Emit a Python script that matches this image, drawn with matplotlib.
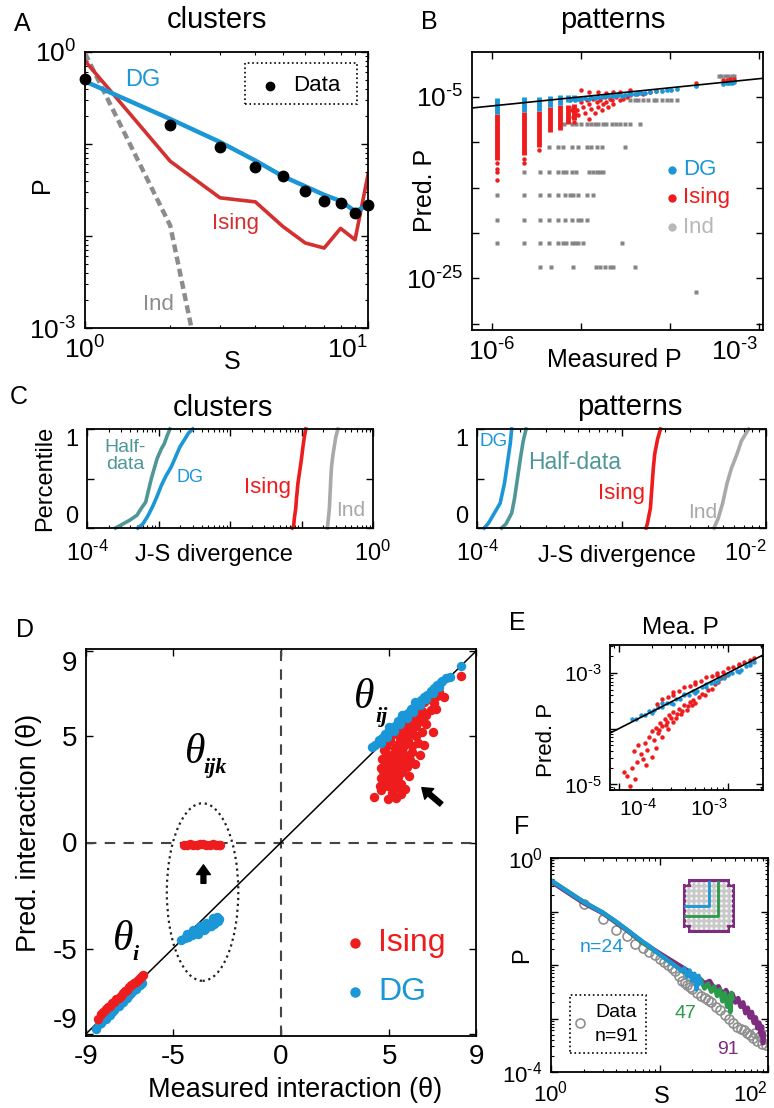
import numpy as np
import matplotlib
matplotlib.use("Agg")
import matplotlib.pyplot as plt
from matplotlib.patches import Ellipse, Rectangle, Polygon
from matplotlib.ticker import NullFormatter, NullLocator
from matplotlib.mathtext import MathTextParser
from matplotlib.font_manager import FontProperties

plt.rcParams['font.family'] = ['Liberation Sans', 'DejaVu Sans']
plt.rcParams['mathtext.fontset'] = 'custom'
plt.rcParams['mathtext.rm'] = 'Liberation Sans'
plt.rcParams['mathtext.it'] = 'Liberation Sans:italic'
plt.rcParams['mathtext.default'] = 'regular'

# ---------------- DATA ----------------
# Panel A (cluster size distribution)
a_S = [1, 2, 3, 4, 5, 6, 7, 8, 9, 10]
a_data = [0.51, 0.162, 0.093, 0.056, 0.0445, 0.031, 0.0238, 0.023, 0.0178, 0.0215]
a_dg = [0.48, 0.187, 0.105, 0.066, 0.0446, 0.0347, 0.028, 0.024, 0.0186, 0.0214]
a_ising = [0.80, 0.065, 0.026, 0.0235, 0.0127, 0.0084, 0.0074, 0.0121, 0.0091, 0.0464]
a_ind = [0.97, 0.013, 3.2e-5, 2e-8]

# Panel B (patterns, log10 values)
b_col_logx = [-5.94, -5.64, -5.47, -5.34, -5.23, -5.14, -5.07]
b_dg_top = [-5.15, -5.0, -5.0, -4.85, -4.8, -4.8, -4.8]
b_dg_bot = [-6.85, -6.65, -6.5, -6.1, -5.9, -5.6, -5.4]
b_is_top = [-6.85, -6.65, -6.5, -6.1, -5.9, -5.9, -5.8]
b_is_bot = [-12.0, -11.4, -10.5, -8.85, -8.65, -7.95, -7.6]
b_is_logx = [-5.94, -5.94, -5.94, -5.94, -5.64, -5.64, -5.47,
             -4.99, -4.90, -4.80, -4.71, -4.63, -4.56, -4.45, -5.04, -5.03, -4.99, -4.97,
             -4.95, -4.93, -4.91, -4.90, -4.88, -4.86, -4.84, -4.82, -4.80, -4.78, -4.76,
             -4.75, -4.73, -4.71, -4.69, -4.67, -4.65, -4.63, -4.60, -4.56, -4.52, -4.48,
             -4.45, -4.37, -4.30, -4.22, -4.15, -5.10, -5.09, -5.08, -5.07, -5.06,
             -3.70, -3.40, -3.36, -3.32, -3.28]
b_is_logy = [-12.3, -12.9, -13.3, -14.2, -11.8, -12.3, -10.9,
             -4.27, -4.45, -4.45, -4.56, -4.45, -4.45, -4.27, -6.47, -7.02, -5.55, -6.10,
             -6.83, -5.37, -7.39, -5.73, -6.28, -5.18, -6.83, -5.55, -6.10, -5.37, -6.47,
             -5.73, -5.0, -5.55, -6.10, -5.18, -5.37, -5.73, -5.0, -5.37, -5.18, -5.0,
             -4.82, -4.71, -4.63, -4.45, -4.34, -6.47, -7.2, -6.1, -7.75, -6.83,
             -3.46, -3.17, -3.09, -3.02, -2.98]
b_dg_logx = [-5.12, -5.06, -5.03, -4.99, -4.95, -4.91, -4.88, -4.84, -4.80, -4.76, -4.73, -4.69,
             -4.65, -4.61, -4.58, -4.54, -4.50, -4.46, -4.43, -4.39, -4.35, -4.32, -4.28, -4.22,
             -4.15, -4.09, -4.03, -3.98, -3.92, -3.70, -3.40, -3.36, -3.33, -3.30, -3.28]
b_dg_logy = [-5.35, -5.3, -5.2, -5.25, -5.15, -5.2, -5.05, -5.1, -5.0, -5.05, -4.95, -4.9,
             -4.95, -4.85, -4.8, -4.85, -4.75, -4.7, -4.72, -4.65, -4.6, -4.55, -4.55, -4.45,
             -4.4, -4.3, -4.25, -4.2, -4.15, -3.85, -3.55, -3.5, -3.45, -3.42, -3.4]
b_ind_rows_logy = [-5.37, -7.94, -10.5, -13.33, -15.83, -18.58, -21.15, -23.72, -26.47, -2.65]
b_ind_rows_logx = [
    [-4.45, -4.39, -4.35, -4.30, -4.24, -4.18, -4.15, -4.09, -4.03, -3.98, -3.92],
    [-5.19, -5.10, -5.05, -4.99, -4.93, -4.88, -4.84, -4.80, -4.75, -4.71, -4.65, -4.60,
     -4.56, -4.50, -4.45, -4.33],
    [-5.35, -5.25, -5.20, -5.10, -5.03, -4.93, -4.88, -4.82, -4.76, -4.50],
    [-5.64, -5.46, -5.35, -5.25, -5.20, -5.16, -5.10, -5.05, -4.90, -4.86, -4.82, -4.78, -4.75],
    [-5.94, -5.64, -5.46, -5.35, -5.25, -5.18, -5.12, -5.08, -5.03, -4.93, -4.86],
    [-5.94, -5.64, -5.46, -5.35, -5.25, -5.18, -5.10, -5.03, -4.99, -4.93],
    [-5.94, -5.64, -5.46, -5.35, -5.25, -5.20, -5.16, -5.10, -5.06, -5.03, -4.97, -4.54],
    [-5.46, -5.33, -5.09, -4.83, -4.78, -4.73, -4.67, -4.63, -4.39],
    [-3.70],
    [-3.45, -3.42, -3.38, -3.34, -3.30, -3.28],
]

# Panel C (cumulative distributions of J-S divergence, log10 x)
c1_half_x = [-3.60, -3.50, -3.40, -3.30, -3.24, -3.18, -3.14, -3.10, -3.06, -3.02, -2.96, -2.92, -2.88, -2.84]
c1_half_y = [0.0, 0.04, 0.08, 0.13, 0.2, 0.26, 0.38, 0.5, 0.6, 0.7, 0.8, 0.85, 0.93, 1.0]
c1_dg_x = [-3.29, -3.22, -3.15, -3.08, -3.02, -2.96, -2.90, -2.82, -2.76, -2.70, -2.63, -2.58, -2.52]
c1_dg_y = [0.0, 0.04, 0.12, 0.22, 0.32, 0.43, 0.52, 0.62, 0.72, 0.82, 0.9, 0.96, 1.0]
c1_is_x = [-1.13, -1.11, -1.10, -1.08, -1.07, -1.05, -1.03, -1.0, -0.98, -0.96, -0.94]
c1_is_y = [0.0, 0.02, 0.1, 0.2, 0.3, 0.45, 0.55, 0.7, 0.82, 0.92, 1.0]
c1_ind_x = [-0.64, -0.63, -0.61, -0.60, -0.59, -0.58, -0.56, -0.54, -0.52, -0.49]
c1_ind_y = [0.0, 0.05, 0.2, 0.35, 0.5, 0.62, 0.74, 0.83, 0.92, 1.0]
c2_dg_x = [-3.95, -3.92, -3.88, -3.84, -3.81, -3.79, -3.77, -3.76]
c2_dg_y = [0.0, 0.05, 0.15, 0.25, 0.45, 0.65, 0.85, 1.0]
c2_half_x = [-3.83, -3.80, -3.76, -3.74, -3.72, -3.70, -3.68, -3.66]
c2_half_y = [0.0, 0.04, 0.15, 0.3, 0.5, 0.7, 0.88, 1.0]
c2_is_x = [-2.83, -2.82, -2.80, -2.79, -2.78, -2.77, -2.75, -2.73]
c2_is_y = [0.0, 0.05, 0.2, 0.4, 0.6, 0.75, 0.9, 1.0]
c2_ind_x = [-2.36, -2.33, -2.30, -2.27, -2.24, -2.20, -2.17, -2.12]
c2_ind_y = [0.0, 0.1, 0.25, 0.45, 0.6, 0.75, 0.88, 1.0]

# Panel D (interactions)
d_i_is_x = [-8.45, -8.3, -8.2, -8.1, -8.0, -7.9, -7.8, -7.7, -7.6, -7.5, -7.4, -7.3, -7.2,
            -7.1, -7.0, -6.9, -6.8, -6.7, -6.6, -6.5, -6.4, -6.35]
d_i_is_y = [-8.3, -8.05, -7.98, -7.85, -7.75, -7.68, -7.55, -7.5, -7.38, -7.3, -7.2, -7.08,
            -7.0, -6.92, -6.8, -6.72, -6.6, -6.55, -6.45, -6.35, -6.3, -6.25]
d_i_dg_x = [-8.55, -8.4, -8.3, -8.2, -8.1, -8.0, -7.9, -7.8, -7.7, -7.6, -7.5, -7.4, -7.3,
            -7.2, -7.1, -7.0, -6.9, -6.8, -6.7, -6.6, -6.5, -6.4, -7.75, -7.45, -7.15, -6.85, -8.15]
d_i_dg_y = [-8.75, -8.55, -8.5, -8.35, -8.3, -8.15, -8.1, -7.95, -7.9, -7.75, -7.7, -7.55,
            -7.5, -7.35, -7.3, -7.15, -7.1, -6.95, -6.9, -6.75, -6.7, -6.6, -7.75, -7.5, -7.2, -6.9, -8.1]
d_ijk_is_x = [-4.5, -4.35, -4.2, -4.05, -3.9, -3.75, -3.6, -3.45, -3.3, -3.15, -3.0, -2.85, -2.8]
d_ijk_is_y = [-0.1, -0.12, -0.08, -0.1, -0.12, -0.08, -0.06, -0.1, -0.12, -0.08, -0.1, -0.1, -0.12]
d_ijk_dg_x = [-4.6, -4.45, -4.3, -4.2, -4.1, -4.0, -3.9, -3.8, -3.7, -3.6, -3.5, -3.4, -3.3,
              -3.2, -3.1, -3.0, -2.9, -2.85, -4.35, -4.05, -3.75, -3.45, -3.15, -3.85, -3.55, -3.25, -2.95]
d_ijk_dg_y = [-4.6, -4.5, -4.45, -4.35, -4.35, -4.25, -4.25, -4.15, -4.12, -4.05, -4.05, -3.95,
              -3.92, -3.85, -3.85, -3.75, -3.7, -3.6, -4.28, -4.1, -3.94, -3.78, -3.57, -4.29, -4.1, -3.94, -3.5]
d_ij_dg_x = [4.2, 4.35, 4.5, 4.65, 4.8, 4.95, 5.1, 5.25, 5.4, 5.55, 5.7, 5.85, 6.0, 6.15, 6.3,
             6.45, 6.6, 6.75, 6.9, 7.05, 7.2, 7.4, 7.6, 8.3, 4.6, 4.9, 5.2, 5.5, 5.8, 6.1, 6.4,
             6.7, 7.0, 7.3, 5.0, 5.6, 6.2, 7.45, 7.8]
d_ij_dg_y = [4.48, 4.6, 4.8, 4.92, 5.1, 5.2, 5.38, 5.5, 5.7, 5.8, 5.98, 6.1, 6.28, 6.38, 6.55,
             6.68, 6.85, 6.95, 7.12, 7.25, 7.4, 7.55, 7.75, 8.28, 4.68, 4.96, 5.26, 5.56, 5.86,
             6.15, 6.45, 6.74, 7.02, 7.32, 5.45, 6.0, 6.6, 7.6, 7.8]
d_ij_is_x = [4.3, 4.95, 5.3, 5.1, 4.6, 4.55, 4.75, 4.95, 5.15, 5.35, 5.55, 4.6, 4.8, 5.0, 5.2,
             5.4, 5.6, 5.9, 4.6, 4.8, 5.0, 5.2, 5.4, 5.6, 5.8, 6.2, 4.65, 4.85, 5.05, 5.25, 5.45,
             5.65, 5.85, 6.05, 6.4, 4.85, 5.05, 5.25, 5.45, 5.65, 5.85, 6.05, 6.3, 6.6, 5.05,
             5.25, 5.45, 5.65, 5.85, 6.05, 6.25, 6.5, 7.0, 5.45, 5.65, 5.85, 6.05, 6.25, 6.45,
             6.7, 5.9, 6.1, 6.3, 6.5, 6.7, 6.9, 7.15, 6.6, 6.85, 7.05, 7.3, 7.5, 7.2, 8.3,
             4.7, 4.9, 5.1, 5.3, 5.5, 5.7, 4.75, 4.95, 5.15, 5.35, 5.55, 5.75, 5.95, 5.15, 5.55]
d_ij_is_y = [2.15, 2.05, 2.1, 2.35, 2.45, 2.65, 2.8, 2.65, 2.8, 2.6, 2.75, 3.05, 3.2, 3.0, 3.25,
             3.1, 3.3, 3.15, 3.5, 3.7, 3.45, 3.65, 3.5, 3.75, 3.55, 3.7, 3.95, 4.2, 4.0, 4.25,
             4.0, 4.2, 4.05, 4.25, 4.1, 4.5, 4.75, 4.45, 4.7, 4.5, 4.75, 4.55, 4.7, 4.6, 4.95,
             5.2, 5.0, 5.25, 5.0, 5.2, 5.0, 5.2, 5.2, 5.45, 5.7, 5.5, 5.75, 5.5, 5.7, 5.55,
             6.05, 6.25, 6.0, 6.2, 6.0, 6.25, 6.3, 6.6, 6.75, 6.55, 7.1, 6.85, 6.9, 7.85,
             3.35, 2.95, 3.55, 2.9, 3.9, 2.5, 4.35, 4.1, 3.85, 4.5, 3.4, 4.9, 3.9, 2.5, 2.3]

# Panel E (log10 values)
e_dg_logx = [-3.88, -3.84, -3.8, -3.76, -3.72, -3.68, -3.64, -3.6, -3.56, -3.52, -3.48, -3.44,
             -3.4, -3.36, -3.32, -3.28, -3.24, -3.2, -3.16, -3.12, -3.08, -3.04, -3.0, -2.96,
             -2.92, -2.88, -2.84, -2.8, -2.76, -3.7, -3.5, -3.3, -3.1, -2.9, -3.6, -3.4, -3.2, -3.0, -2.8]
e_dg_logy = [-3.82, -3.82, -3.75, -3.76, -3.68, -3.67, -3.61, -3.61, -3.54, -3.54, -3.47, -3.46,
             -3.4, -3.39, -3.33, -3.32, -3.26, -3.25, -3.18, -3.16, -3.11, -3.09, -3.03, -3.01,
             -2.96, -2.94, -2.88, -2.86, -2.81, -3.72, -3.55, -3.36, -3.17, -2.98, -3.54, -3.37,
             -3.2, -3.02, -2.83]
e_is_up_logx = [-3.65, -3.6, -3.55, -3.5, -3.45, -3.4, -3.35, -3.3, -3.25, -3.2, -3.15, -3.1,
                -3.05, -3.0, -2.95, -2.9, -2.85, -2.8, -2.76, -3.5, -3.3, -3.1, -2.9]
e_is_up_logy = [-3.55, -3.46, -3.43, -3.35, -3.33, -3.26, -3.23, -3.17, -3.15, -3.08, -3.06,
                -3.0, -2.98, -2.92, -2.9, -2.84, -2.81, -2.77, -2.74, -3.4, -3.2, -3.03, -2.86]
e_is_lo_logx = [-3.9, -3.92, -3.88, -3.85, -3.83, -3.8, -3.82, -3.78, -3.76, -3.74, -3.72, -3.7,
                -3.68, -3.66, -3.64, -3.62, -3.6, -3.58, -3.56, -3.54, -3.52, -3.5, -3.47, -3.45,
                -3.42, -3.4, -3.37, -3.35, -3.32, -3.3, -3.27, -3.24, -3.21, -3.18, -3.15, -3.12,
                -3.09, -3.06, -3.03, -3.0, -3.66, -3.7, -3.6, -3.55, -3.5, -3.75, -3.86, -3.95,
                -3.63, -3.57, -3.48, -3.43, -3.38, -3.33]
e_is_lo_logy = [-5.02, -4.85, -4.7, -4.9, -4.6, -4.45, -4.3, -4.55, -4.25, -4.38, -4.15, -4.05,
                -4.2, -3.98, -4.08, -3.9, -3.96, -3.82, -3.88, -3.76, -3.8, -3.7, -3.74, -3.64,
                -3.68, -3.58, -3.6, -3.52, -3.48, -3.54, -3.44, -3.38, -3.4, -3.3, -3.28, -3.2,
                -3.17, -3.1, -3.06, -3.02, -4.35, -4.5, -4.15, -4.0, -3.88, -4.65, -4.4, -4.78,
                -4.02, -3.93, -3.8, -3.73, -3.66, -3.58]

# Panel F (cluster size distributions for n = 24, 47, 91; log10 P)
f24_S = [1, 2, 3, 4, 5, 6, 7, 8, 10, 12, 14, 16, 17, 18, 19, 20, 21, 22, 23, 24]
f24_logP = [-0.42, -0.82, -1.02, -1.19, -1.34, -1.46, -1.56, -1.64, -1.80, -1.92, -2.02, -2.11,
            -2.06, -2.22, -2.10, -2.30, -2.16, -2.46, -2.20, -2.34]
f47_S = [1, 2, 3, 5, 7, 10, 13, 16, 18, 20, 22, 24, 26, 28, 30, 32, 34, 36, 38, 40, 42, 44, 45, 46, 47]
f47_logP = [-0.42, -0.82, -1.02, -1.34, -1.58, -1.80, -1.97, -2.10, -2.16, -2.24, -2.34, -2.27,
            -2.44, -2.35, -2.50, -2.40, -2.58, -2.46, -2.68, -2.52, -2.78, -2.58, -2.88, -2.52, -2.62]
f91_S = [1, 2, 3, 5, 7, 10, 12, 15, 18, 20, 23, 26, 29, 32, 35, 38, 41, 44, 47, 50, 53, 56, 59,
         62, 65, 68, 71, 74, 77, 80, 83, 86, 88, 90, 91]
f91_logP = [-0.44, -0.84, -1.03, -1.35, -1.58, -1.78, -1.88, -2.0, -2.1, -2.18, -2.24, -2.34,
            -2.3, -2.44, -2.4, -2.55, -2.47, -2.6, -2.54, -2.7, -2.62, -2.78, -2.7, -2.9, -2.8,
            -2.98, -2.88, -3.08, -2.98, -3.18, -3.08, -3.3, -3.15, -3.46, -3.3]
fdata_S = [2, 3, 4, 5, 6, 7, 8, 9, 10, 11, 12, 13, 14, 15, 16, 17, 18, 19, 20, 22, 24, 26, 28,
           30, 33, 36, 40, 44, 48, 52, 56, 60, 64, 68, 72, 76, 80, 84, 88, 92, 96, 98]
fdata_logP = [-0.86, -1.14, -1.35, -1.46, -1.6, -1.68, -1.76, -1.82, -1.88, -1.94, -2.0, -2.06,
              -2.12, -2.2, -2.3, -2.34, -2.38, -2.42, -2.45, -2.52, -2.58, -2.62, -2.66, -2.7,
              -2.78, -2.85, -2.94, -3.0, -3.08, -3.15, -3.2, -3.22, -3.28, -3.3, -3.36, -3.28,
              -3.42, -3.33, -3.48, -3.38, -3.5, -3.3]
inset_grid = 10
inset_sizes = [5, 7]

# ---------------- STYLE ----------------
BLUE = '#1b96d6'
RED = '#ee1c1c'
DRED = '#d3302f'
GRAY = '#8c8c8c'
LGRAY = '#a9a9a9'
TEAL = '#4f9797'
GREEN = '#2b9a4a'
PURPLE = '#7d2c80'

W, H = 774, 1108
fig = plt.figure(figsize=(W / 100, H / 100), dpi=100)
fig.patch.set_facecolor('white')

# short hyphen for exponent minus if mathtext accepts it
HY = '\u2010'
try:
    MathTextParser('agg').parse('$10^{' + HY + '3}$', 100, FontProperties(size=12))
except Exception:
    HY = '-'


def add_ax(x0, y0, x1, y1):
    return fig.add_axes([x0 / W, 1 - y1 / H, (x1 - x0) / W, (y1 - y0) / H])


def ftext(x, y, s, **kw):
    kw.setdefault('ha', 'center')
    kw.setdefault('va', 'center')
    fig.text(x / W, 1 - y / H, s, **kw)


def L(e):
    if e < 0:
        return '$10^{' + HY + str(-e) + '}$'
    return '$10^{' + str(e) + '}$'


def style(ax, fs, pad=4):
    for s in ax.spines.values():
        s.set_linewidth(1.3)
    ax.tick_params(which='both', direction='in', top=True, right=True, labelsize=fs, pad=pad)
    ax.tick_params(which='major', length=5, width=1)
    ax.tick_params(which='minor', length=2.5, width=0.8)


def right_last_xlabel(ax):
    ax.get_xticklabels()[-1].set_horizontalalignment('right')


def P10(v):
    return 10 ** np.asarray(v, dtype=float)


# ---------------- PANEL A ----------------
axA = add_ax(85, 52, 368, 328)
axA.set_xscale('log'); axA.set_yscale('log')
axA.plot(a_S[:len(a_ind)], a_ind, color=GRAY, lw=3.2, dashes=(1.8, 1.0))
axA.plot(a_S, a_ising, color=DRED, lw=2.6)
axA.plot(a_S, a_dg, color=BLUE, lw=3.2)
axA.plot(a_S, a_data, 'o', color='k', ms=7.5, clip_on=False, zorder=5)
axA.set_xlim(1, 10); axA.set_ylim(1e-3, 1)
axA.set_xticks([1, 10]); axA.set_xticklabels([L(0), L(1)])
axA.set_yticks([1e-3, 1e-2, 1e-1, 1]); axA.set_yticklabels([L(-3), '', '', L(0)])
axA.xaxis.set_minor_formatter(NullFormatter()); axA.yaxis.set_minor_formatter(NullFormatter())
style(axA, 19, pad=6)
right_last_xlabel(axA)
axA.add_patch(Rectangle((0.565, 0.812), 0.396, 0.148, transform=axA.transAxes, fill=False,
                        ls=':', lw=1.2, ec='k'))
axA.plot([0.654], [0.877], 'o', color='k', ms=6, transform=axA.transAxes)
axA.text(0.735, 0.877, 'Data', transform=axA.transAxes, va='center', fontsize=16)
ftext(143, 80, 'DG', color=BLUE, fontsize=17)
ftext(235, 223, 'Ising', color=DRED, fontsize=16)
ftext(158, 305, 'Ind', color=GRAY, fontsize=16)
ftext(217, 20, 'clusters', fontsize=21)
ftext(22, 24, 'A', fontsize=18)
ftext(42, 185, 'P', fontsize=18, rotation=90)
ftext(232, 362, 'S', fontsize=18)

# ---------------- PANEL B ----------------
axB = add_ax(472, 52, 763, 330)
axB.set_xscale('log'); axB.set_yscale('log')
for lx, row in zip(b_ind_rows_logy, b_ind_rows_logx):
    axB.plot(P10(row), P10([lx] * len(row)), 's', color='#858585', ms=2.6, mec='none')
axB.vlines(P10(b_col_logx), P10(b_is_bot), P10(b_is_top), color=RED, lw=3.5)
axB.plot(P10(b_is_logx), P10(b_is_logy), 'o', color=RED, ms=3.2, mec='none')
axB.vlines(P10(b_col_logx), P10(b_dg_bot), P10(b_dg_top), color=BLUE, lw=3.5)
axB.plot(P10(b_dg_logx), P10(b_dg_logy), 'o', color=BLUE, ms=3.4, mec='none')
axB.axline((1e-6, 1e-6), (1e-3, 1e-3), color='k', lw=1.2)
axB.set_xlim(10 ** -6.22, 10 ** -2.95); axB.set_ylim(10 ** -30.7, 10 ** -0.05)
axB.set_xticks([1e-6, 1e-5, 1e-4, 1e-3]); axB.set_xticklabels([L(-6), '', '', L(-3)])
axB.set_yticks([1e-30, 1e-25, 1e-20, 1e-15, 1e-10, 1e-5])
axB.set_yticklabels(['', L(-25), '', '', '', L(-5)])
axB.yaxis.set_minor_locator(NullLocator())
axB.xaxis.set_minor_formatter(NullFormatter())
style(axB, 19, pad=6)
right_last_xlabel(axB)
for fy, lab, col in [(0.576, 'DG', BLUE), (0.475, 'Ising', RED), (0.37, 'Ind', '#b8b8b8')]:
    axB.plot([0.687], [fy], 'o', color=col, ms=6, mec='none', transform=axB.transAxes)
    axB.text(0.726, fy, lab, color=col, fontsize=16, va='center', transform=axB.transAxes)
ftext(613, 20, 'patterns', fontsize=21)
ftext(429, 22, 'B', fontsize=18)
ftext(425, 190, 'Pred. P', fontsize=18, rotation=90)
ftext(614, 360, 'Measured P', fontsize=18)

# ---------------- PANEL C ----------------
axC1 = add_ax(87, 429, 373, 528)
axC2 = add_ax(477, 429, 766, 528)
for ax, curves, xl in [
        (axC1, [(c1_half_x, c1_half_y, TEAL), (c1_dg_x, c1_dg_y, BLUE),
                (c1_is_x, c1_is_y, RED), (c1_ind_x, c1_ind_y, LGRAY)], (1e-4, 1.0)),
        (axC2, [(c2_half_x, c2_half_y, TEAL), (c2_dg_x, c2_dg_y, BLUE),
                (c2_is_x, c2_is_y, RED), (c2_ind_x, c2_ind_y, LGRAY)], (1e-4, 1e-2))]:
    ax.set_xscale('log')
    for xs, ys, col in curves:
        ax.plot(P10(xs), ys, color=col, lw=2.6, clip_on=False)
    ax.set_xlim(*xl); ax.set_ylim(0, 1)
    ax.set_yticks([0, 0.5, 1]); ax.set_yticklabels(['0', '', '1'])
    ax.xaxis.set_minor_formatter(NullFormatter())
    style(ax, 17, pad=6)
    ax.tick_params(axis='x', pad=9)
    ax.get_yticklabels()[0].set_verticalalignment('bottom')
    ax.get_yticklabels()[-1].set_verticalalignment('top')
axC1.set_xticks([1e-4, 1e-3, 1e-2, 1e-1, 1]); axC1.set_xticklabels([L(-4), '', '', '', L(0)])
axC2.set_xticks([1e-4, 1e-3, 1e-2]); axC2.set_xticklabels([L(-4), '', L(-2)])
right_last_xlabel(axC2)
ftext(19, 397, 'C', fontsize=18)
ftext(223, 408, 'clusters', fontsize=21)
ftext(630, 407, 'patterns', fontsize=21)
ftext(45, 478, 'Percentile', fontsize=17, rotation=90)
ftext(214, 555, 'J-S divergence', fontsize=17)
ftext(617, 556, 'J-S divergence', fontsize=17)
ftext(125, 456, 'Half-\ndata', color=TEAL, fontsize=14, linespacing=1.05)
ftext(190, 477, 'DG', color=BLUE, fontsize=13)
ftext(267, 487, 'Ising', color=RED, fontsize=16)
ftext(351, 511, 'Ind', color=LGRAY, fontsize=15)
ftext(494, 441, 'DG', color=BLUE, fontsize=13.5)
ftext(575, 463, 'Half-data', color=TEAL, fontsize=16.5)
ftext(622, 493, 'Ising', color=RED, fontsize=16)
ftext(703, 512, 'Ind', color=LGRAY, fontsize=15)

# ---------------- PANEL D ----------------
axD = add_ax(86, 649, 476, 1036)
axD.axhline(0, color='#444444', lw=1.5, dashes=(5, 4))
axD.axvline(0, color='#444444', lw=1.5, dashes=(5, 4))
axD.axline((0, 0), slope=1, color='k', lw=1.1)
axD.add_patch(Ellipse((-3.62, -2.33), 3.3, 8.35, fill=False, ls=':', lw=1.6, ec='#222222'))
ms_d = 6.8
axD.plot(d_ij_is_x, d_ij_is_y, 'o', color=RED, ms=ms_d, mec='none')
axD.plot(d_ij_dg_x, d_ij_dg_y, 'o', color=BLUE, ms=ms_d, mec='none')
axD.plot(d_ijk_is_x, d_ijk_is_y, 'o', color=RED, ms=ms_d, mec='none')
axD.plot(d_ijk_dg_x, d_ijk_dg_y, 'o', color=BLUE, ms=ms_d, mec='none')
axD.plot(d_i_dg_x, d_i_dg_y, 'o', color=BLUE, ms=ms_d, mec='none')
axD.plot(d_i_is_x, d_i_is_y, 'o', color=RED, ms=ms_d, mec='none')
axD.annotate('', xy=(-3.58, -1.05), xytext=(-3.58, -1.92),
             arrowprops=dict(facecolor='k', edgecolor='k', width=3.5, headwidth=10, headlength=7))
axD.annotate('', xy=(6.5, 2.58), xytext=(7.4, 1.8),
             arrowprops=dict(facecolor='k', edgecolor='k', width=3.5, headwidth=10, headlength=7))
axD.set_xlim(-9, 9); axD.set_ylim(-9.1, 9.1)
axD.set_xticks([-9, -5, 0, 5, 9]); axD.set_xticklabels(['-9', '-5', '0', '5', '9'])
axD.set_yticks([-9, -5, 0, 5, 9]); axD.set_yticklabels(['-9', '-5', '0', '5', '9'])
style(axD, 20, pad=6)
axD.get_yticklabels()[0].set_verticalalignment('bottom')
axD.get_yticklabels()[-1].set_verticalalignment('top')
serif_it = dict(family='Liberation Serif', style='italic', ha='center', va='center')
axD.text(3.85, 6.82, '\u03b8', fontsize=30, **serif_it)
axD.text(4.62, 5.92, 'ij', fontsize=16, weight='bold', **serif_it)
axD.text(-3.97, 4.23, '\u03b8', fontsize=30, **serif_it)
axD.text(-3.02, 3.52, 'ijk', fontsize=16, weight='bold', **serif_it)
axD.text(-7.29, -4.55, '\u03b8', fontsize=30, **serif_it)
axD.text(-6.7, -5.3, 'i', fontsize=16, weight='bold', **serif_it)
for fy, lab, col in [(0.24, 'Ising', RED), (0.114, 'DG', BLUE)]:
    axD.plot([0.69], [fy], 'o', color=col, ms=7.5, mec='none', transform=axD.transAxes)
    axD.text(0.749, fy, lab, color=col, fontsize=23, va='center', transform=axD.transAxes)
ftext(25, 630, 'D', fontsize=18)
ftext(29, 833, 'Pred. interaction (\u03b8)', fontsize=19.5, rotation=90)
ftext(295, 1090, 'Measured interaction (\u03b8)', fontsize=19.5)

# ---------------- PANEL E ----------------
axE = add_ax(610, 645, 763, 790)
axE.set_xscale('log'); axE.set_yscale('log')
axE.plot(P10(e_is_lo_logx), P10(e_is_lo_logy), 'o', color=RED, ms=3.2, mec='none')
axE.plot(P10(e_dg_logx), P10(e_dg_logy), 'o', color=BLUE, ms=3.2, mec='none')
axE.plot(P10(e_is_up_logx), P10(e_is_up_logy), 'o', color=RED, ms=3.2, mec='none')
axE.axline((1e-4, 1e-4), (1e-3, 1e-3), color='k', lw=1.2)
axE.set_xlim(10 ** -4.08, 10 ** -2.68); axE.set_ylim(10 ** -5.1, 10 ** -2.5)
axE.set_xticks([1e-4, 1e-3]); axE.set_xticklabels([L(-4), L(-3)])
axE.set_yticks([1e-5, 1e-4, 1e-3]); axE.set_yticklabels([L(-5), '', L(-3)])
axE.xaxis.set_minor_formatter(NullFormatter()); axE.yaxis.set_minor_formatter(NullFormatter())
style(axE, 15, pad=6)
axE.get_xticklabels()[0].set_horizontalalignment('left')
axE.get_xticklabels()[-1].set_horizontalalignment('right')
ftext(517, 623, 'E', fontsize=18)
ftext(680, 628, 'Mea. P', fontsize=17.5)
ftext(547, 740, 'Pred. P', fontsize=16, rotation=90)

# ---------------- PANEL F ----------------
axF = add_ax(551, 858, 768, 1072)
axF.set_xscale('log'); axF.set_yscale('log')
axF.plot(fdata_S, P10(fdata_logP), 'o', mfc='none', mec='#8f8f8f', mew=1.2, ms=6.5)
axF.plot(f91_S, P10(f91_logP), color=PURPLE, lw=3.4)
axF.plot(f47_S, P10(f47_logP), color=GREEN, lw=3.2)
axF.plot(f24_S, P10(f24_logP), color=BLUE, lw=3.0)
axF.set_xlim(1, 100); axF.set_ylim(1e-4, 1)
axF.set_xticks([1, 10, 100]); axF.set_xticklabels([L(0), '', L(2)])
axF.set_yticks([1e-4, 1e-3, 1e-2, 1e-1, 1]); axF.set_yticklabels([L(-4), '', '', '', L(0)])
axF.xaxis.set_minor_formatter(NullFormatter()); axF.yaxis.set_minor_formatter(NullFormatter())
style(axF, 16, pad=6)
right_last_xlabel(axF)
axF.add_patch(Rectangle((0.088, 0.089), 0.35, 0.271, transform=axF.transAxes, fill=False,
                        ls=':', lw=1.2, ec='k'))
axF.plot([0.134], [0.229], 'o', mfc='none', mec='#8f8f8f', mew=1.2, ms=6.5, transform=axF.transAxes)
axF.text(0.203, 0.276, 'Data', fontsize=14, va='center', transform=axF.transAxes)
axF.text(0.203, 0.164, 'n=91', fontsize=14, va='center', transform=axF.transAxes)
ftext(602, 947, 'n=24', color=BLUE, fontsize=14)
ftext(685, 1013, '47', color=GREEN, fontsize=14)
ftext(728, 1050, '91', color=PURPLE, fontsize=14)
ftext(522, 827, 'F', fontsize=18)
ftext(522, 955, 'P', fontsize=17, rotation=90)
ftext(662, 1097, 'S', fontsize=17)

# inset electrode array schematic
axI = fig.add_axes([682 / W, 1 - 933 / H, 53 / W, 55 / H])
n = inset_grid
axI.set_xlim(-0.4, n + 0.4); axI.set_ylim(-0.4, n + 0.4); axI.axis('off')
outline = [(1, 0), (n - 1, 0), (n - 1, 1), (n, 1), (n, n - 1), (n - 1, n - 1), (n - 1, n),
           (1, n), (1, n - 1), (0, n - 1), (0, 1), (1, 1)]
axI.add_patch(Polygon(outline, closed=True, facecolor='#c9c9c9', edgecolor=PURPLE, lw=2.2))
gx, gy = np.meshgrid(np.arange(n) + 0.5, np.arange(n) + 0.5)
axI.plot(gx.ravel(), gy.ravel(), '.', color='white', ms=1.6)
for s, c in zip(inset_sizes, [BLUE, GREEN]):
    axI.plot([0.3, s, s], [n - s, n - s, n - 0.3], color=c, lw=2)

fig.savefig('out.png', dpi=100, facecolor='white')
